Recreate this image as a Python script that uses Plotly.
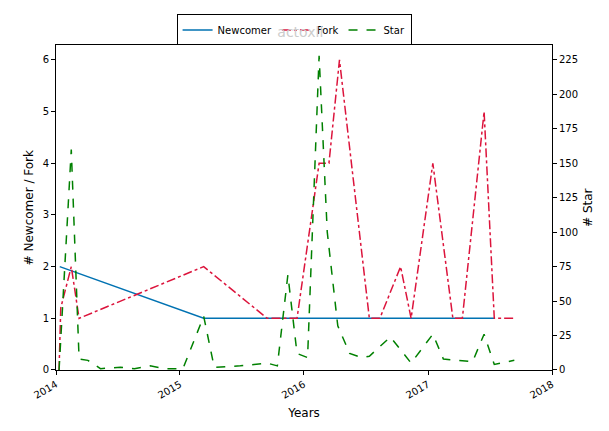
import plotly.graph_objects as go

newcomer_dates = ["2014-01-12", "2015-03-12", "2017-07-15"]
newcomer_vals = [2, 1, 1]

fork_dates = ["2014-01-10", "2014-01-15", "2014-02-15", "2014-03-10", "2015-03-12", "2015-09-15",
              "2015-12-12", "2016-02-15", "2016-03-15", "2016-04-15", "2016-07-12", "2016-08-12",
              "2016-10-12", "2016-11-12", "2017-01-15", "2017-03-15", "2017-04-12", "2017-06-15",
              "2017-07-15", "2017-09-12"]
fork_vals = [0, 1.2, 2, 1, 2, 1, 1, 4, 4, 6, 1, 1, 2, 1, 4, 1, 1, 5, 1, 1]

star_dates = ["2014-01-10", "2014-02-15", "2014-03-10", "2014-04-05", "2014-05-12", "2014-07-10",
              "2014-08-20", "2014-10-05", "2014-11-15", "2015-01-10", "2015-03-12", "2015-04-12",
              "2015-06-28", "2015-09-15", "2015-10-15", "2015-11-15", "2015-12-12", "2016-01-12",
              "2016-02-15", "2016-03-10", "2016-04-10", "2016-05-15", "2016-06-20", "2016-07-12",
              "2016-09-12", "2016-11-12", "2017-01-15", "2017-02-15", "2017-05-12", "2017-06-15",
              "2017-07-15", "2017-09-12"]
star_vals = [0, 160, 8, 7, 1, 2, 1, 3, 1, 1, 39, 2, 3, 5, 3, 69, 12, 9, 228, 100, 32, 12, 9, 10,
             24, 5, 26, 8, 6, 26, 4, 7]

fig = go.Figure()
fig.add_trace(go.Scatter(x=newcomer_dates, y=newcomer_vals, mode="lines", name="Newcomer",
                         line=dict(color="#0072b2", width=1.5)))
fig.add_trace(go.Scatter(x=fork_dates, y=fork_vals, mode="lines", name="Fork",
                         line=dict(color="crimson", width=1.5, dash="dashdot")))
fig.add_trace(go.Scatter(x=star_dates, y=star_vals, mode="lines", name="Star", yaxis="y2",
                         line=dict(color="green", width=1.5, dash="dash")))

axis_common = dict(showgrid=False, zeroline=False, showline=True, linecolor="black",
                   ticks="outside", tickcolor="black", ticklen=4, automargin=False)

fig.update_layout(
    width=609, height=431,
    plot_bgcolor="white", paper_bgcolor="white",
    font=dict(family="DejaVu Sans", size=10, color="black"),
    margin=dict(l=48, r=65, t=36, b=69),
    title=dict(text="actoxll", x=0.48, xanchor="center", y=0.955, font=dict(color="#cccccc", size=14)),
    showlegend=True,
    legend=dict(orientation="h", x=0.48, xanchor="center", yref="container", y=0.985, yanchor="top",
                bordercolor="black", borderwidth=1, bgcolor="rgba(255,255,255,0.8)",
                font=dict(size=10)),
    xaxis=dict(axis_common, range=["2014-01-01", "2018-01-01"], dtick="M12", tickformat="%Y",
               tickangle=-30, title=dict(text="Years", standoff=8), mirror=True),
    yaxis=dict(axis_common, range=[0, 6.28], dtick=1, title=dict(text="# Newcomer / Fork", standoff=6)),
    yaxis2=dict(axis_common, range=[0, 235.5], dtick=25, overlaying="y", side="right",
                title=dict(text="# Star", standoff=6)),
)

fig.write_html("out.html")
